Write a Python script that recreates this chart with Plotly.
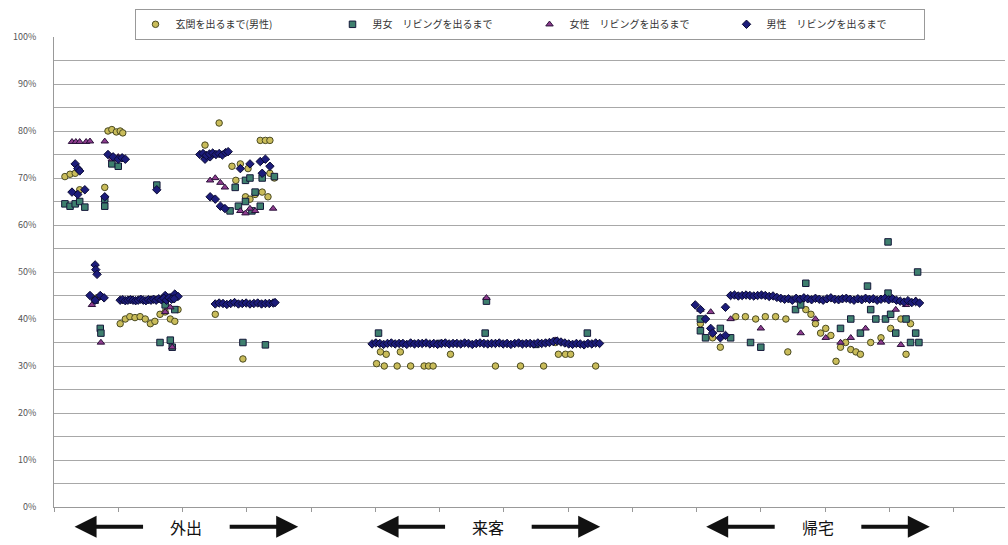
import plotly.graph_objects as go

# ---------------- data (x = sample position, y = percent) ----------------
series_names = ["玄関を出るまで(男性)", "男女　リビングを出るまで", "女性　リビングを出るまで", "男性　リビングを出るまで"]

# circles: 玄関を出るまで(男性)
genkan_x_out = [8.4, 9.0, 9.7, 10.3, 10.7, 1.7, 2.5, 3.3, 4.0, 7.9,
                25.7, 23.5, 32.1, 32.9, 33.6, 27.7, 29.0, 30.2, 28.3, 29.8, 30.5, 31.3, 32.4, 33.3, 33.6, 34.3,
                10.3, 11.1, 11.8, 12.6, 13.4, 14.2, 15.0, 15.7, 16.5, 17.3, 18.1, 18.8, 19.3, 25.1, 29.4, 6.7]
genkan_y_out = [80.0, 80.3, 79.8, 80.0, 79.6, 70.3, 70.8, 71.0, 67.5, 68.0,
                81.7, 77.0, 78.0, 78.0, 78.0, 72.5, 73.0, 72.0, 69.5, 66.0, 65.5, 66.5, 67.0, 66.0, 71.0, 70.0,
                39.0, 40.0, 40.5, 40.3, 40.5, 40.0, 39.0, 39.5, 41.0, 41.5, 40.0, 39.5, 42.0, 41.0, 31.5, 44.5]
genkan_x_visit = [50.2, 51.4, 53.4, 55.5, 57.6, 58.3, 59.0, 68.7, 72.6, 76.2, 84.3,
                  50.8, 51.7, 53.9, 61.7, 78.5, 79.6, 80.4, 78.0]
genkan_y_visit = [30.5, 30.0, 30.0, 30.0, 30.0, 30.0, 30.0, 30.0, 30.0, 30.0, 30.0,
                  33.0, 32.5, 33.0, 32.5, 32.5, 32.5, 32.5, 35.0]
genkan_x_home = [100.6, 102.5, 103.7, 106.1, 107.6, 109.2, 110.7, 112.3, 113.9, 114.2, 117.0, 117.8, 118.5, 119.3,
                 120.1, 120.9, 121.7, 122.4, 123.2, 124.0, 124.8, 125.5, 127.1, 128.7, 130.2, 131.8, 132.6, 133.3]
genkan_y_home = [39.0, 36.0, 34.0, 40.5, 40.5, 40.0, 40.5, 40.5, 40.0, 33.0, 42.0, 41.0, 39.0, 37.0,
                 38.0, 36.5, 31.0, 34.0, 35.0, 33.5, 33.0, 32.5, 35.0, 36.0, 38.0, 40.0, 32.5, 39.0]

# squares: 男女 リビングを出るまで
both_x_out = [1.7, 2.5, 3.3, 4.0, 4.8, 7.9, 7.9, 16.0, 7.2, 7.3, 16.5, 18.1, 18.4, 29.4, 32.9,
              28.2, 29.8, 30.5, 31.3, 29.8, 27.4, 28.7, 30.8, 32.1, 32.4, 34.3, 6.4, 17.3, 18.8, 9.0, 10.0]
both_y_out = [64.5, 64.0, 64.5, 65.0, 63.8, 64.0, 65.5, 68.5, 38.0, 37.0, 35.0, 35.5, 34.0, 35.0, 34.5,
              68.0, 69.5, 70.0, 67.0, 65.0, 63.0, 64.0, 63.0, 64.0, 70.0, 70.3, 44.0, 43.0, 42.0, 73.0, 72.5]
both_x_visit = [50.5, 67.1, 83.0, 67.3, 60.0, 75.0]
both_y_visit = [37.0, 37.0, 37.0, 43.8, 34.8, 34.6]
both_x_home = [129.8, 134.4, 117.0, 126.6, 129.8, 100.6, 100.6, 101.4, 103.7, 105.3, 108.4, 110.0, 115.4, 116.2,
               122.4, 124.0, 125.5, 127.1, 127.9, 131.0, 132.6, 133.3, 134.1, 134.6, 129.4, 130.2]
both_y_home = [56.4, 50.0, 47.6, 47.0, 45.5, 40.0, 37.5, 36.0, 38.0, 36.0, 35.0, 34.0, 42.0, 43.0,
               38.0, 40.0, 37.0, 42.0, 40.0, 37.0, 40.0, 35.0, 37.0, 35.0, 40.0, 41.0]

# triangles: 女性 リビングを出るまで
female_x_out = [2.8, 3.4, 4.0, 5.0, 5.6, 7.9, 7.3, 9.0, 10.0, 10.9, 24.3, 25.1, 25.9, 26.6, 34.1, 18.4,
                7.2, 5.9, 17.3, 18.1, 29.0, 29.8, 30.5, 31.3]
female_y_out = [77.7, 77.7, 77.7, 77.7, 77.8, 77.8, 35.0, 74.0, 74.5, 74.0, 69.5, 70.0, 69.0, 68.0, 63.5, 34.0,
                44.5, 43.0, 41.5, 42.5, 63.0, 62.5, 63.5, 63.0]
female_x_visit = [50.0, 78.0, 67.3]
female_y_visit = [35.0, 35.5, 44.5]
female_x_home = [100.6, 102.2, 105.3, 110.0, 116.2, 118.5, 120.1, 122.4, 124.0, 126.3, 128.7, 131.0, 132.6, 134.1, 131.8]
female_y_home = [42.0, 41.5, 40.0, 38.0, 37.0, 40.0, 36.0, 35.0, 36.0, 38.0, 35.0, 42.0, 43.0, 44.0, 34.5]

# diamonds: 男性 リビングを出るまで
male_x_out = [3.3, 3.7, 4.0, 2.8, 3.7, 4.8, 7.9, 16.0, 8.4, 9.2, 10.0, 10.6, 11.1, 6.4, 6.5, 6.7, 5.6, 6.4, 7.2, 7.8,
              17.3, 18.1, 18.8, 19.3, 23.5, 24.3, 29.0, 30.5, 32.1, 32.9, 33.6, 32.4, 24.3, 25.1, 25.9, 26.6]
male_y_out = [73.0, 72.0, 71.5, 67.0, 66.5, 67.5, 66.0, 67.5, 75.0, 74.5, 74.0, 74.3, 74.0, 51.5, 50.5, 49.5, 45.0, 44.0, 45.0, 44.5,
              45.0, 44.5, 45.3, 44.8, 74.0, 74.5, 72.0, 73.0, 73.5, 74.0, 72.5, 71.0, 66.0, 65.5, 64.0, 63.5]
male_x_line44 = [10.3, 10.7, 11.1, 11.5, 11.9, 12.3, 12.7, 13.1, 13.5, 13.9, 14.3, 14.7, 15.1, 15.5, 15.9, 16.3,
                 16.7, 17.1, 17.5, 17.9, 18.3, 18.7]
male_y_line44 = [44.0, 44.1, 43.9, 44.0, 44.1, 44.0, 43.9, 44.0, 44.2, 44.0, 43.9, 44.1, 44.0, 44.2, 44.0, 44.3,
                 44.1, 44.4, 44.0, 44.5, 44.2, 44.3]
male_x_line43 = [25.1, 25.7, 26.3, 26.9, 27.5, 28.1, 28.7, 29.3, 29.9, 30.5, 31.1, 31.7, 32.3, 32.9, 33.5, 34.1, 34.4]
male_y_line43 = [43.2, 43.4, 43.3, 43.1, 43.3, 43.5, 43.2, 43.3, 43.4, 43.2, 43.3, 43.4, 43.2, 43.3, 43.3, 43.4, 43.5]
male_x_line75 = [22.7, 23.2, 23.7, 24.2, 24.7, 25.2, 25.7, 26.2, 26.7, 27.1]
male_y_line75 = [75.0, 75.2, 74.8, 75.1, 75.3, 75.0, 75.2, 74.9, 75.4, 75.6]
male_x_visit = [49.5, 50.1, 50.7, 51.3, 51.9, 52.5, 53.1, 53.7, 54.3, 54.9, 55.5, 56.1, 56.7, 57.3, 57.9, 58.5,
                59.1, 59.7, 60.3, 60.9, 61.5, 62.1, 62.7, 63.3, 63.9, 64.5, 65.1, 65.7, 66.3, 66.9, 67.5, 68.1,
                68.7, 69.3, 69.9, 70.5, 71.1, 71.7, 72.3, 72.9, 73.5, 74.1, 74.7, 75.3, 75.9, 76.5, 77.1, 77.7,
                78.3, 78.9, 79.5, 80.1, 80.7, 81.3, 81.9, 82.5, 83.1, 83.7, 84.3, 84.9]
male_y_visit = [34.7, 34.9, 34.8, 34.6, 34.8, 34.9, 34.7, 34.8, 34.8, 34.6,
                34.9, 34.7, 34.8, 34.8, 34.9, 34.7, 34.8, 34.6, 34.8, 34.9,
                34.7, 34.8, 34.8, 34.7, 34.9, 34.8, 34.6, 34.8, 34.9, 34.8,
                34.7, 34.8, 34.8, 34.9, 34.7, 34.8, 34.6, 34.8, 34.9, 34.7,
                34.8, 34.8, 34.7, 34.9, 34.8, 34.9, 35.0, 35.2, 35.3, 35.1,
                34.9, 34.7, 34.6, 34.8, 34.7, 34.5, 34.8, 34.7, 34.9, 34.8]
male_x_home = [99.8, 100.6, 101.4, 102.2, 102.5, 103.7, 104.5, 104.5,
               105.3, 105.9, 106.5, 107.1, 107.7, 108.3, 108.9, 109.5, 110.1, 110.7, 111.3, 111.9, 112.5, 113.1,
               113.7, 114.3, 114.9, 115.5, 116.1, 116.7, 117.3, 117.9, 118.5, 119.1, 119.7, 120.3, 120.9, 121.5,
               122.1, 122.7, 123.3, 123.9, 124.5, 125.1, 125.7, 126.3, 126.9, 127.5, 128.1, 128.7, 129.3, 129.9,
               130.5, 131.1, 131.7, 132.3, 132.9, 133.5, 134.1, 134.7]
male_y_home = [43.0, 42.0, 40.0, 38.0, 37.0, 36.0, 42.5, 36.5,
               45.0, 45.1, 44.9, 45.0, 45.1, 45.0, 44.9, 45.0, 45.1, 45.0, 44.8, 44.9, 44.6, 44.4,
               44.2, 44.3, 44.0, 44.4, 44.2, 44.5, 44.3, 44.1, 44.4, 44.2, 44.0, 44.3, 44.5, 44.2,
               44.1, 44.3, 44.4, 44.2, 44.0, 44.3, 44.1, 44.4, 44.2, 44.3, 44.0, 44.2, 44.4, 44.1,
               44.3, 44.0, 43.8, 43.6, 43.9, 43.5, 43.7, 43.4]

y_ticks = [0, 10, 20, 30, 40, 50, 60, 70, 80, 90, 100]
y_tick_text = ["0%", "10%", "20%", "30%", "40%", "50%", "60%", "70%", "80%", "90%", "100%"]
group_labels = ["外出", "来客", "帰宅"]
group_centers = [20.6, 67.6, 118.9]

# ---------------- figure ----------------
styles = [
    dict(symbol="circle", color="#C9BC5A", line="#4a4a22"),
    dict(symbol="square", color="#3E7F6E", line="#15183a"),
    dict(symbol="triangle-up", color="#8E3C8E", line="#2a123a"),
    dict(symbol="diamond", color="#1C1C7A", line="#0a0a33"),
]
data_x = [
    genkan_x_out + genkan_x_visit + genkan_x_home,
    both_x_out + both_x_visit + both_x_home,
    female_x_out + female_x_visit + female_x_home,
    male_x_out + male_x_line44 + male_x_line43 + male_x_line75 + male_x_visit + male_x_home,
]
data_y = [
    genkan_y_out + genkan_y_visit + genkan_y_home,
    both_y_out + both_y_visit + both_y_home,
    female_y_out + female_y_visit + female_y_home,
    male_y_out + male_y_line44 + male_y_line43 + male_y_line75 + male_y_visit + male_y_home,
]

fig = go.Figure()
for name, st, xs, ys in zip(series_names, styles, data_x, data_y):
    fig.add_trace(go.Scatter(
        x=xs, y=ys, mode="markers", name=name,
        marker=dict(symbol=st["symbol"], size=6.5, color=st["color"],
                    line=dict(color=st["line"], width=1)),
    ))

fig.update_layout(
    width=1008, height=545,
    margin=dict(l=54, r=3, t=37, b=38, autoexpand=False),
    paper_bgcolor="white", plot_bgcolor="white",
    font=dict(family="Noto Sans CJK JP, sans-serif", color="#333"),
    showlegend=True,
    legend=dict(orientation="h", x=0.5, xanchor="center", y=1.06, yanchor="top",
                font=dict(size=10, color="#333"), bordercolor="#999", borderwidth=1,
                bgcolor="white", itemsizing="trace", itemwidth=30,
                entrywidth=152, entrywidthmode="pixels", tracegroupgap=0),
)
fig.update_xaxes(range=[0, 148], showgrid=False, zeroline=False, showticklabels=False,
                 ticks="outside", ticklen=4, tickcolor="#999", dtick=10, tick0=0,
                 showline=True, linecolor="#999", linewidth=1, mirror=False, automargin=False)
fig.update_yaxes(range=[0, 100], tickvals=y_ticks, ticktext=y_tick_text,
                 tickfont=dict(size=9, color="#555"), ticklabelstandoff=15,
                 showgrid=True, gridcolor="#a8a8a8", gridwidth=1, zeroline=False,
                 minor=dict(dtick=5, tick0=0, showgrid=True, gridcolor="#a8a8a8", gridwidth=1),
                 showline=True, linecolor="#999", linewidth=1, ticks="", automargin=False)

# group labels with arrows below the axis
for label, cx in zip(group_labels, group_centers):
    fig.add_annotation(x=cx, y=-0.042, xref="x", yref="paper", text=label, showarrow=False,
                       font=dict(size=16, color="#111", family="Noto Sans CJK JP"),
                       yanchor="middle")
    # left arrow
    fig.add_annotation(x=cx - 17.4, y=-0.042, xref="x", yref="paper", text="",
                       showarrow=True, arrowhead=2, arrowsize=1.1, arrowwidth=4, arrowcolor="#111",
                       ax=70, ay=0)
    # right arrow
    fig.add_annotation(x=cx + 17.4, y=-0.042, xref="x", yref="paper", text="",
                       showarrow=True, arrowhead=2, arrowsize=1.1, arrowwidth=4, arrowcolor="#111",
                       ax=-70, ay=0)

fig.write_html("out.html", post_script="document.body.style.margin='0';",
               config={"displayModeBar": False})
